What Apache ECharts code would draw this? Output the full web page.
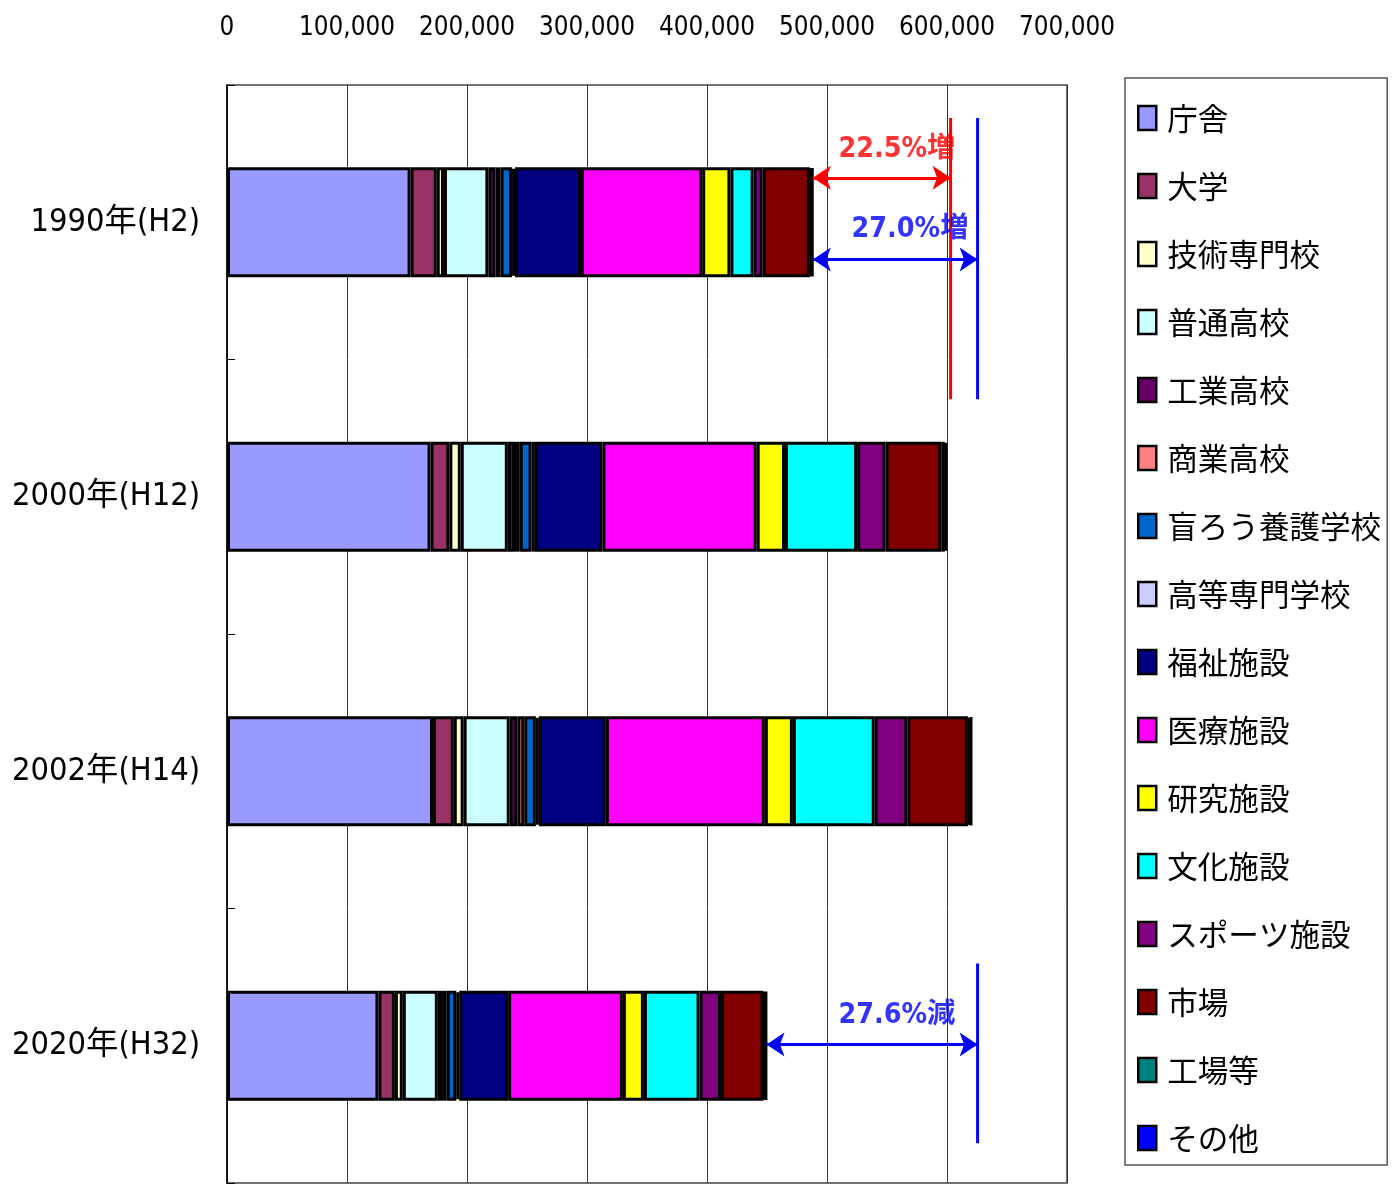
<!DOCTYPE html>
<html><head><meta charset="utf-8">
<script src="https://cdn.jsdelivr.net/npm/echarts@6/dist/echarts.min.js"></script>
<style>html,body{margin:0;padding:0;background:#fff}#c{width:1392px;height:1184px}</style>
</head><body><div id="c"></div>
<script>
const categories = ['1990年(H2)', '2000年(H12)', '2002年(H14)', '2020年(H32)'];
const seriesNames = ['庁舎','大学','技術専門校','普通高校','工業高校','商業高校','盲ろう養護学校','高等専門学校','福祉施設','医療施設','研究施設','文化施設','スポーツ施設','市場','工場等','その他'];
const seriesColors = ['#9999FF','#993366','#FFFFCC','#CCFFFF','#660066','#FF8080','#0066CC','#CCCCFF','#000080','#FF00FF','#FFFF00','#00FFFF','#800080','#800000','#008080','#0000FF'];
const v庁舎 = [153000, 169600, 171700, 126200];
const v大学 = [21800, 15700, 17300, 13700];
const v技術専門校 = [6000, 9500, 8200, 6600];
const v普通高校 = [37000, 39200, 38400, 29200];
const v工業高校 = [6000, 6000, 6400, 3500];
const v商業高校 = [4200, 4000, 5700, 3900];
const v盲ろう養護学校 = [9600, 9800, 9700, 8000];
const v高等専門学校 = [2400, 2800, 2500, 2400];
const v福祉施設 = [55000, 56200, 55800, 40800];
const v医療施設 = [101000, 128600, 132500, 95600];
const v研究施設 = [23500, 23600, 23400, 17500];
const v文化施設 = [19300, 60100, 68200, 46400];
const vスポーツ施設 = [7600, 23700, 27100, 17900];
const v市場 = [39300, 46400, 50500, 35400];
const v工場等 = [1500, 3000, 2000, 1500];
const vその他 = [1000, 1500, 1200, 1000];
const xTicks = [0, 100000, 200000, 300000, 400000, 500000, 600000, 700000];

// annotation values
const refRed = 603000;   // 2000 level line
const refBlue = 625500;  // 2002 level line
const annTexts = ['22.5%増', '27.0%増', '27.6%減'];

const values = [v庁舎,v大学,v技術専門校,v普通高校,v工業高校,v商業高校,v盲ろう養護学校,v高等専門学校,v福祉施設,v医療施設,v研究施設,v文化施設,vスポーツ施設,v市場,v工場等,vその他];
const totals = categories.map((c, i) => values.reduce((s, a) => s + a[i], 0));

// font helpers: pick a condensed font if installed, size text to fit widths seen in the reference
const cv = document.createElement('canvas').getContext('2d');
function has(f) {
  cv.font = '40px monospace'; const w0 = cv.measureText('abcdefghijklm0123456789').width;
  cv.font = '40px "' + f + '", monospace'; const w1 = cv.measureText('abcdefghijklm0123456789').width;
  return Math.abs(w1 - w0) > 0.5;
}
const condensed = ['Liberation Sans Narrow', 'DejaVu Sans Condensed', 'Roboto Condensed', 'Open Sans Condensed', 'Noto Sans'].find(has);
const narrow = (condensed ? '"' + condensed + '", ' : '') + '"Noto Sans CJK JP", sans-serif';
const cjk = '"Noto Sans CJK JP", sans-serif';
function fit(text, fam, weight, target, cap) {
  cv.font = weight + ' 100px ' + fam;
  return Math.min(cap, 100 * target / cv.measureText(text).width);
}
const fsX = fit('100,000', narrow, 'normal', 96, 40);
const fsY = fit('2000年(H12)', narrow, 'normal', 188, 40);
const fsAnn = fit('22.5%増', narrow, 'bold', 117, 38);
const fsLeg = fit('盲ろう養護学校', cjk, 'normal', 214, 40);

const barSeries = seriesNames.map((n, k) => ({
  name: n, type: 'bar', stack: 'total', barWidth: '40%',
  data: values[k],
  itemStyle: { color: seriesColors[k], borderColor: '#000', borderWidth: 3 },
  emphasis: { disabled: true }
}));

function vline(name, color, x, y0, y1) {
  return { name, type: 'line', xAxisIndex: 0, yAxisIndex: 1, silent: true, showSymbol: false,
    data: [[x, y0], [x, y1]], lineStyle: { color, width: 3 }, z: 5 };
}
function arrow(name, color, x0, x1, y, text, tx, ty) {
  return [{
    name, type: 'lines', coordinateSystem: 'cartesian2d', xAxisIndex: 0, yAxisIndex: 1, silent: true, z: 6,
    symbol: ['arrow', 'arrow'], symbolSize: 18,
    lineStyle: { color, width: 3, opacity: 1 },
    data: [{ coords: [[x0, y], [x1, y]] }]
  }, {
    name: name + 't', type: 'scatter', xAxisIndex: 0, yAxisIndex: 1, silent: true, symbolSize: 0, z: 7,
    data: [[tx, ty]],
    label: { show: true, position: 'inside', formatter: text, color, fontFamily: narrow, fontWeight: 'bold', fontSize: fsAnn }
  }];
}

const annSeries = [
  vline('_r', '#FF0000', refRed, 0.12, 1.145),
  vline('_b1', '#0000FF', refBlue, 0.12, 1.145),
  vline('_b2', '#0000FF', refBlue, 3.2, 3.855),
  ...arrow('_a1', '#FF0000', totals[0], refRed, 0.338, annTexts[0], 558300, 0.236),
  ...arrow('_a2', '#0000FF', totals[0], refBlue, 0.636, annTexts[1], 569200, 0.527),
  ...arrow('_a3', '#0000FF', totals[3], refBlue, 3.495, annTexts[2], 558300, 3.389)
];

const chart = echarts.init(document.getElementById('c'));
chart.setOption({
  backgroundColor: '#fff',
  animation: false,
  grid: { left: 227, right: 325, top: 85, bottom: 1, outerBoundsMode: 'none', containLabel: false,
    show: true, borderColor: '#444', borderWidth: 1.5, backgroundColor: '#fff' },
  xAxis: [{
    type: 'value', position: 'top', min: xTicks[0], max: xTicks[xTicks.length - 1], interval: xTicks[1] - xTicks[0],
    axisLine: { show: false }, axisTick: { show: false },
    splitLine: { show: true, lineStyle: { color: '#333', width: 1 } },
    axisLabel: { margin: 44, fontSize: fsX, color: '#000', fontFamily: narrow,
      formatter: v => String(v).replace(/\B(?=(\d{3})+(?!\d))/g, ',') }
  }],
  yAxis: [{
    type: 'category', inverse: true, data: categories,
    axisLine: { show: true, lineStyle: { color: '#000', width: 1.5 } },
    axisTick: { show: true, inside: true, length: 8, lineStyle: { color: '#000' } },
    axisLabel: { margin: 27, fontSize: fsY, color: '#000', fontFamily: narrow }
  }, {
    type: 'value', show: false, min: 0, max: 4, inverse: true
  }],
  legend: {
    orient: 'vertical', left: 1125, top: 78,
    data: seriesNames,
    padding: [20, 6, 7, 12],
    borderColor: '#555', borderWidth: 1.5,
    itemWidth: 18, itemHeight: 24, itemGap: 28,
    icon: 'rect',
    itemStyle: { borderColor: '#000', borderWidth: 2.5 },
    textStyle: { fontSize: fsLeg, lineHeight: 40, color: '#000', fontFamily: cjk, padding: [0, 0, 0, 6] },
    selectedMode: false
  },
  series: [...barSeries, ...annSeries]
});
</script></body></html>
